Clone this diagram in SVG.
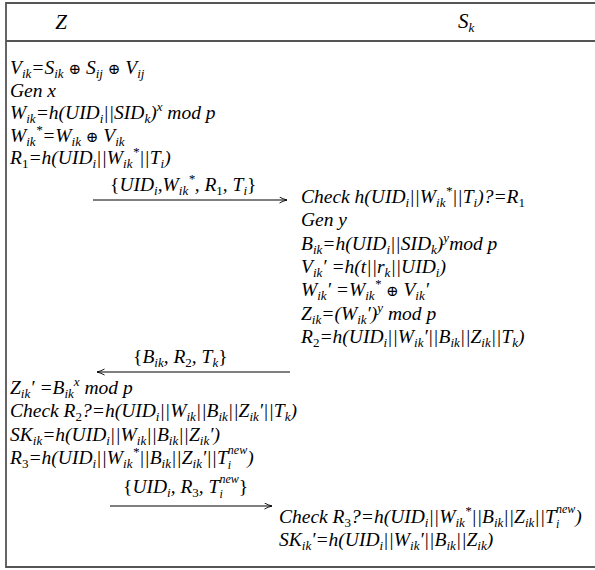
<svg xmlns="http://www.w3.org/2000/svg" width="595" height="570" viewBox="0 0 595 570">
<defs>
<style>
text{font-family:'Liberation Serif','Times New Roman','DejaVu Serif',serif;font-style:italic;font-size:19.5px;fill:#000}
.h{font-size:21px}
.s{font-size:13px}
.t{font-size:12px}
.u{font-style:normal}
.o{font-family:'DejaVu Serif','DejaVu Sans',serif;font-style:normal;font-size:15px}
.frame{stroke:#555;stroke-width:1.8;fill:none}
.msg{stroke:#000;stroke-width:1;fill:none}
</style>
<marker id="ah" markerWidth="10" markerHeight="8" refX="8" refY="3.5" orient="auto" markerUnits="userSpaceOnUse">
<path d="M0.5,0.5 Q4,2.5 8,3.5 Q4,4.5 0.5,6.5" fill="none" stroke="#000" stroke-width="0.9"/>
</marker>
</defs>
<g id="frame">
<path class="frame" d="M595,3 H6 V567 H595"/>
<line class="frame" x1="6" y1="41" x2="595" y2="41"/>
</g>
<g id="header">
<text class="h" x="61" y="29" text-anchor="middle">Z</text>
<text class="h" x="458" y="28">S<tspan class="s" dy="4">k</tspan></text>
</g>
<g id="Z-block1">
<text x="10" y="74">V<tspan class="s" dy="4">ik</tspan><tspan dy="-4">=S</tspan><tspan class="s" dy="4">ik</tspan><tspan dy="-4"> </tspan><tspan class="o">⊕</tspan><tspan> S</tspan><tspan class="s" dy="4">ij</tspan><tspan dy="-4"> </tspan><tspan class="o">⊕</tspan><tspan> V</tspan><tspan class="s" dy="4">ij</tspan></text>
<text x="10" y="96.5">Gen x</text>
<text x="10" y="119">W<tspan class="s" dy="4">ik</tspan><tspan dy="-4">=h(UID</tspan><tspan class="s" dy="4">i</tspan><tspan dy="-4">||SID</tspan><tspan class="s" dy="4">k</tspan><tspan dy="-4">)</tspan><tspan class="s" dy="-8">x</tspan><tspan dy="8"> mod p</tspan></text>
<text x="10" y="141.5">W<tspan class="s" dy="4">ik</tspan><tspan class="s" dy="-12">*</tspan><tspan dy="8">=W</tspan><tspan class="s" dy="4">ik</tspan><tspan dy="-4"> </tspan><tspan class="o">⊕</tspan><tspan> V</tspan><tspan class="s" dy="4">ik</tspan></text>
<text x="10" y="164">R<tspan class="s u" dy="4">1</tspan><tspan dy="-4">=h(UID</tspan><tspan class="s" dy="4">i</tspan><tspan dy="-4">||W</tspan><tspan class="s" dy="4">ik</tspan><tspan class="s" dy="-12">*</tspan><tspan dy="8">||T</tspan><tspan class="s" dy="4">i</tspan><tspan dy="-4">)</tspan></text>
</g>
<g id="S-block1">
<text x="301" y="203">Check h(UID<tspan class="s" dy="4">i</tspan><tspan dy="-4">||W</tspan><tspan class="s" dy="4">ik</tspan><tspan class="s" dy="-12">*</tspan><tspan dy="8">||T</tspan><tspan class="s" dy="4">i</tspan><tspan dy="-4">)?=R</tspan><tspan class="s u" dy="4">1</tspan></text>
<text x="301" y="226.3">Gen y</text>
<text x="301" y="249.6">B<tspan class="s" dy="4">ik</tspan><tspan dy="-4">=h(UID</tspan><tspan class="s" dy="4">i</tspan><tspan dy="-4">||SID</tspan><tspan class="s" dy="4">k</tspan><tspan dy="-4">)</tspan><tspan class="s" dy="-8">y</tspan><tspan dy="8">mod p</tspan></text>
<text x="301" y="273">V<tspan class="s" dy="4">ik</tspan><tspan dy="-4">′ =h(t||r</tspan><tspan class="s" dy="4">k</tspan><tspan dy="-4">||UID</tspan><tspan class="s" dy="4">i</tspan><tspan dy="-4">)</tspan></text>
<text x="301" y="296.3">W<tspan class="s" dy="4">ik</tspan><tspan dy="-4">′ =W</tspan><tspan class="s" dy="4">ik</tspan><tspan class="s" dy="-12">*</tspan><tspan dy="8"> </tspan><tspan class="o">⊕</tspan><tspan> V</tspan><tspan class="s" dy="4">ik</tspan><tspan dy="-4">′</tspan></text>
<text x="301" y="319.6">Z<tspan class="s" dy="4">ik</tspan><tspan dy="-4">=(W</tspan><tspan class="s" dy="4">ik</tspan><tspan dy="-4">′)</tspan><tspan class="s" dy="-8">y</tspan><tspan dy="8"> mod p</tspan></text>
<text x="301" y="343">R<tspan class="s u" dy="4">2</tspan><tspan dy="-4">=h(UID</tspan><tspan class="s" dy="4">i</tspan><tspan dy="-4">||W</tspan><tspan class="s" dy="4">ik</tspan><tspan dy="-4">′||B</tspan><tspan class="s" dy="4">ik</tspan><tspan dy="-4">||Z</tspan><tspan class="s" dy="4">ik</tspan><tspan dy="-4">||T</tspan><tspan class="s" dy="4">k</tspan><tspan dy="-4">)</tspan></text>
</g>
<g id="Z-block2">
<text x="10" y="394">Z<tspan class="s" dy="4">ik</tspan><tspan dy="-4">′ =B</tspan><tspan class="s" dy="4">ik</tspan><tspan class="s" dy="-12">x</tspan><tspan dy="8"> mod p</tspan></text>
<text x="10" y="417.3">Check R<tspan class="s u" dy="4">2</tspan><tspan dy="-4">?=h(UID</tspan><tspan class="s" dy="4">i</tspan><tspan dy="-4">||W</tspan><tspan class="s" dy="4">ik</tspan><tspan dy="-4">||B</tspan><tspan class="s" dy="4">ik</tspan><tspan dy="-4">||Z</tspan><tspan class="s" dy="4">ik</tspan><tspan dy="-4">′||T</tspan><tspan class="s" dy="4">k</tspan><tspan dy="-4">)</tspan></text>
<text x="10" y="440.6">SK<tspan class="s" dy="4">ik</tspan><tspan dy="-4">=h(UID</tspan><tspan class="s" dy="4">i</tspan><tspan dy="-4">||W</tspan><tspan class="s" dy="4">ik</tspan><tspan dy="-4">||B</tspan><tspan class="s" dy="4">ik</tspan><tspan dy="-4">||Z</tspan><tspan class="s" dy="4">ik</tspan><tspan dy="-4">′)</tspan></text>
<text x="10" y="464">R<tspan class="s u" dy="4">3</tspan><tspan dy="-4">=h(UID</tspan><tspan class="s" dy="4">i</tspan><tspan dy="-4">||W</tspan><tspan class="s" dy="4">ik</tspan><tspan class="s" dy="-12">*</tspan><tspan dy="8">||B</tspan><tspan class="s" dy="4">ik</tspan><tspan dy="-4">||Z</tspan><tspan class="s" dy="4">ik</tspan><tspan dy="-4">′||T</tspan><tspan class="t" dy="5">i</tspan><tspan class="t" dx="-3.3" dy="-15">new</tspan><tspan dy="10">)</tspan></text>
</g>
<g id="S-block2">
<text x="279" y="523">Check R<tspan class="s u" dy="4">3</tspan><tspan dy="-4">?=h(UID</tspan><tspan class="s" dy="4">i</tspan><tspan dy="-4">||W</tspan><tspan class="s" dy="4">ik</tspan><tspan class="s" dy="-12">*</tspan><tspan dy="8">||B</tspan><tspan class="s" dy="4">ik</tspan><tspan dy="-4">||Z</tspan><tspan class="s" dy="4">ik</tspan><tspan dy="-4">||T</tspan><tspan class="t" dy="5">i</tspan><tspan class="t" dx="-3.3" dy="-15">new</tspan><tspan dy="10">)</tspan></text>
<text x="279" y="546">SK<tspan class="s" dy="4">ik</tspan><tspan dy="-4">′=h(UID</tspan><tspan class="s" dy="4">i</tspan><tspan dy="-4">||W</tspan><tspan class="s" dy="4">ik</tspan><tspan dy="-4">′||B</tspan><tspan class="s" dy="4">ik</tspan><tspan dy="-4">||Z</tspan><tspan class="s" dy="4">ik</tspan><tspan dy="-4">)</tspan></text>
</g>
<g id="connectors">
<line class="msg" x1="93" y1="200" x2="287" y2="200" marker-end="url(#ah)"/>
<line class="msg" x1="290" y1="372" x2="97" y2="372" marker-end="url(#ah)"/>
<line class="msg" x1="110" y1="506" x2="272" y2="506" marker-end="url(#ah)"/>
<text x="110" y="191"><tspan class="u">{</tspan>UID<tspan class="s" dy="4">i</tspan><tspan dy="-4">,W</tspan><tspan class="s" dy="4">ik</tspan><tspan class="s" dy="-12">*</tspan><tspan dy="8">, R</tspan><tspan class="s u" dy="4">1</tspan><tspan dy="-4">, T</tspan><tspan class="s" dy="4">i</tspan><tspan class="u" dy="-4">}</tspan></text>
<text x="133" y="363"><tspan class="u">{</tspan>B<tspan class="s" dy="4">ik</tspan><tspan dy="-4">, R</tspan><tspan class="s u" dy="4">2</tspan><tspan dy="-4">, T</tspan><tspan class="s" dy="4">k</tspan><tspan class="u" dy="-4">}</tspan></text>
<text x="123" y="493"><tspan class="u">{</tspan>UID<tspan class="s" dy="4">i</tspan><tspan dy="-4">, R</tspan><tspan class="s u" dy="4">3</tspan><tspan dy="-4">, T</tspan><tspan class="t" dy="5">i</tspan><tspan class="t" dx="-3.3" dy="-15">new</tspan><tspan class="u" dy="10">}</tspan></text>
</g>
</svg>
